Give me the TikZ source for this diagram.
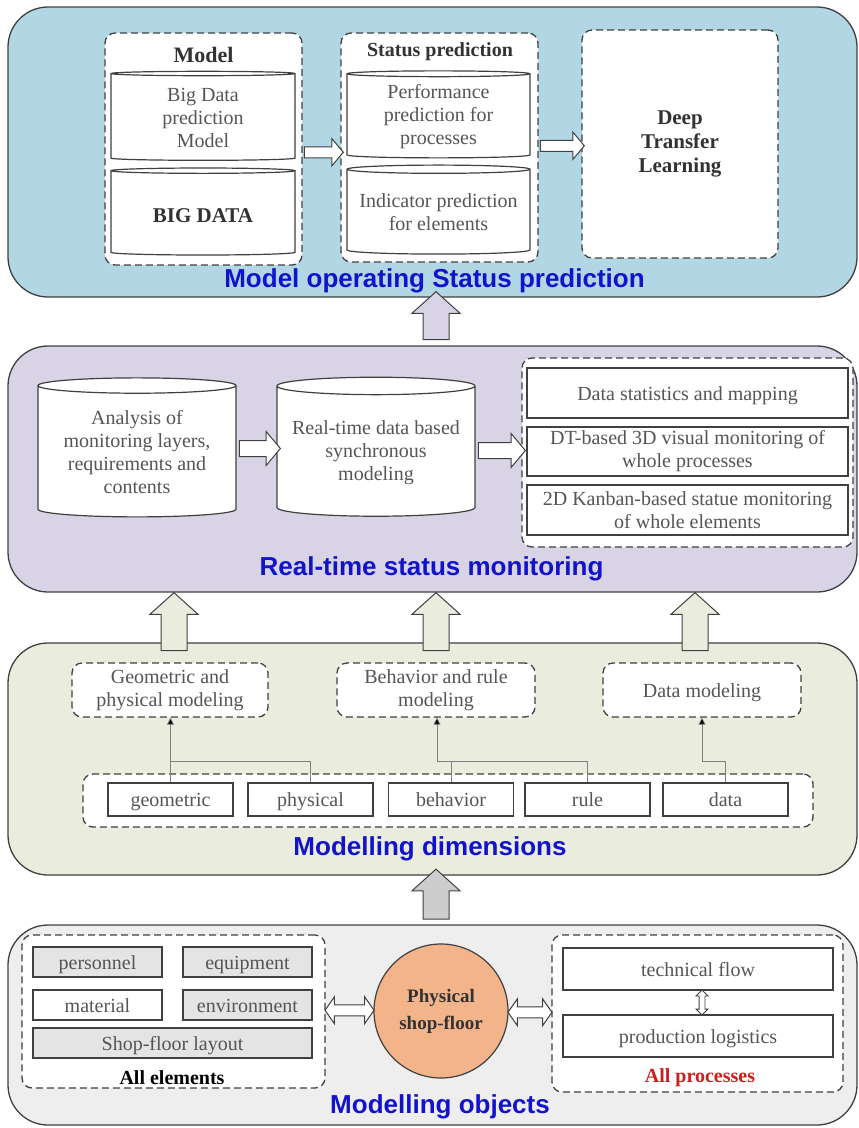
\documentclass[tikz,border=0pt]{standalone}
\usepackage{fontspec}
\setmainfont{Liberation Serif}
\newfontfamily\headfont{Liberation Sans}
\usetikzlibrary{shapes.geometric,shapes.arrows,positioning,arrows.meta}
\definecolor{lc}{RGB}{64,64,64}
\definecolor{tc}{RGB}{85,85,85}
\definecolor{hdc}{RGB}{50,50,50}
\definecolor{ttlblue}{RGB}{18,18,205}
\definecolor{redc}{RGB}{205,30,30}
\definecolor{p1c}{RGB}{178,215,228}
\definecolor{p2c}{RGB}{216,212,230}
\definecolor{p3c}{RGB}{234,237,222}
\definecolor{p4c}{RGB}{238,238,238}
\definecolor{boxgray}{RGB}{228,228,228}
\definecolor{orc}{RGB}{243,180,138}
\definecolor{a43c}{RGB}{205,205,205}
\newcommand{\boxfont}{\fontsize{20}{23}\selectfont}

\begin{document}
\begin{tikzpicture}[x=1pt,y=-1pt,
   panel/.style={draw=lc,line width=1.3pt,rounded corners=40pt,minimum width=849pt,inner sep=0pt},
   ttl/.style={text=ttlblue,font=\headfont\bfseries\fontsize{26}{29}\selectfont,anchor=base},
   grp/.style={draw=lc,line width=1.3pt,dash pattern=on 7pt off 4pt,rounded corners=10pt,fill=white,inner sep=0pt,
     font=\boxfont,text=tc,align=center},
   box/.style={draw=lc,line width=1.2pt,fill=white,text=tc,font=\boxfont,align=center,inner sep=0pt},
   gbox/.style={box,fill=boxgray},
   sl/.style={text height=15pt,text depth=1pt},
   cyl/.style={cylinder,shape border rotate=90,draw=lc,line width=1.2pt,fill=white,text=tc,font=\boxfont,align=center},
   hd/.style={font=\bfseries\fontsize{20}{23}\selectfont,text=hdc,align=center},
   harrow/.style={single arrow,draw=lc,line width=1pt,fill=white,inner sep=5pt,
     single arrow head extend=8pt,single arrow tip angle=100,minimum height=#1},
   darrow/.style={double arrow,draw=lc,line width=1pt,fill=white,inner sep=5pt,
     double arrow head extend=8pt,double arrow tip angle=110,minimum height=#1},
   vdarrow/.style={double arrow,shape border rotate=90,draw=lc,line width=0.8pt,fill=white,inner sep=2.5pt,
     double arrow head extend=3pt,minimum height=#1},
   uparrow/.style={single arrow,shape border rotate=90,draw=lc,line width=1pt,inner sep=12.5pt,
     single arrow head extend=11pt,single arrow tip angle=96,minimum height=#1},
   link/.style={draw=gray,line width=0.7pt},
   uplink/.style={link,-{Triangle[length=7pt,width=7pt,fill=black]}}]
   \useasboundingbox (0,0) rectangle (859,1128);

   \node[panel,fill=p1c,minimum height=290pt] (p1) at (432.5,152) {};
   \node[panel,fill=p2c,minimum height=246pt] (p2) at (432.5,469) {};
   \node[panel,fill=p3c,minimum height=232pt] (p3) at (432.5,759) {};
   \node[panel,fill=p4c,minimum height=200pt] (p4) at (432.5,1025) {};

   \node[grp,minimum width=197pt,minimum height=232pt] (mdl) at (203.5,149) {};
   \node[hd,font=\bfseries\fontsize{22}{24}\selectfont] (mdlt) at (203.5,55) {Model};
   \node[cyl,aspect=0.05,minimum width=184pt,minimum height=89pt] (bdm) at (203,117.5) {Big Data\\prediction\\Model};
   \node[cyl,aspect=0.05,minimum width=184pt,minimum height=87pt,font=\bfseries\fontsize{21}{23}\selectfont,text=hdc,
     text height=17pt,text depth=0pt] (bd) at (203,213.5) {BIG DATA};
   \node[grp,minimum width=197pt,minimum height=229pt] (sts) at (439.5,147.5) {};
   \node[hd] (stst) at (440,52) {Status prediction};
   \node[cyl,aspect=0.05,minimum width=183pt,minimum height=87pt] (perf) at (438.5,116.5) {Performance\\prediction for\\processes};
   \node[cyl,aspect=0.05,minimum width=183pt,minimum height=89pt] (ind) at (438.5,212.5) {Indicator prediction\\for elements};
   \node[grp,minimum width=196pt,minimum height=228pt] (dtl) at (680,144) {};
   \node[hd,font=\bfseries\fontsize{21}{24}\selectfont] (dtlt) at (dtl) {Deep\\Transfer\\Learning};
   \path ([yshift=-4pt]mdl.east) -- ([yshift=-4pt]sts.west) node[midway,harrow=39pt] {};
   \path (sts.east) -- (dtl.west) node[midway,harrow=44pt] {};
   \node[ttl] (t1) at (434.5,287) {Model operating Status prediction};

   \node[cyl,aspect=0.1,minimum width=198pt,minimum height=139pt] (anl) at (137,452.5) {Analysis of\\monitoring layers,\\requirements and\\contents};
   \node[cyl,aspect=0.1,minimum width=198pt,minimum height=139pt] (rtd) at (376,452.5) {Real-time data based\\synchronous\\modeling};
   \node[grp,minimum width=331pt,minimum height=189pt] (mon) at (687.5,452.5) {};
   \node[box,sl,minimum width=321pt,minimum height=50pt] (dsm) at (687.5,393) {Data statistics and mapping};
   \node[box,minimum width=321pt,minimum height=49pt] (vis) at (687.5,451.5) {DT-based 3D visual monitoring of\\whole processes};
   \node[box,minimum width=321pt,minimum height=50pt] (kbn) at (687.5,510) {2D Kanban-based statue monitoring\\of whole elements};
   \path ([yshift=4pt]anl.east) -- ([yshift=4pt]rtd.west) node[midway,harrow=41pt,inner sep=7.5pt,single arrow head extend=9pt] {};
   \path ([yshift=2pt]rtd.east) -- ([yshift=2pt]mon.west) node[midway,harrow=47pt,inner sep=7.5pt,single arrow head extend=9pt] {};
   \node[ttl] (t2) at (431.5,575) {Real-time status monitoring};

   \node[grp,minimum width=196pt,minimum height=54pt] (gpm) at (170,690) {Geometric and\\physical modeling};
   \node[grp,minimum width=198pt,minimum height=54pt] (brm) at (436,690) {Behavior and rule\\modeling};
   \node[grp,sl,minimum width=198pt,minimum height=54pt] (dm) at (702,690) {Data modeling};
   \node[grp,minimum width=730pt,minimum height=53pt] (dim) at (448,800.5) {};
   \node[box,sl,minimum width=125pt,minimum height=33pt] (geo) at (170.5,799.5) {geometric};
   \node[box,sl,minimum width=125pt,minimum height=33pt] (phy) at (310.5,799.5) {physical};
   \node[box,sl,minimum width=125pt,minimum height=33pt] (beh) at (451,799.5) {behavior};
   \node[box,sl,minimum width=125pt,minimum height=33pt] (rul) at (587.5,799.5) {rule};
   \node[box,sl,minimum width=125pt,minimum height=33pt] (dat) at (725.5,799.5) {data};
   \coordinate (jg) at (170.5,761);
   \coordinate (jb) at (437,761);
   \coordinate (jd) at (702,761);
   \draw[link] (geo.north) -- (jg);
   \draw[link] (phy.north) |- (jg);
   \draw[uplink] (jg) -- (jg |- gpm.south);
   \draw[link] (beh.north) |- (jb);
   \draw[link] (rul.north) |- (jb);
   \draw[uplink] (jb) -- (jb |- brm.south);
   \draw[link] (dat.north) |- (jd);
   \draw[uplink] (jd) -- (jd |- dm.south);
   \node[ttl] (t3) at (430,855) {Modelling dimensions};

   \node[grp,minimum width=303pt,minimum height=153pt] (elm) at (173.5,1011.5) {};
   \node[gbox,sl,minimum width=129pt,minimum height=30pt] (per) at (97.5,962) {personnel};
   \node[gbox,sl,minimum width=129pt,minimum height=30pt] (eqp) at (247.5,962) {equipment};
   \node[box,sl,minimum width=129pt,minimum height=30pt] (mat) at (97.5,1005) {material};
   \node[gbox,sl,minimum width=129pt,minimum height=30pt] (env) at (247.5,1005) {environment};
   \node[gbox,sl,minimum width=279pt,minimum height=30pt] (lay) at (172.5,1043) {Shop-floor layout};
   \node[hd,text=black] (elmt) at (172,1078) {All elements};
   \node[circle,draw=lc,line width=1.2pt,fill=orc,minimum size=134pt,hd,font=\bfseries\fontsize{19}{27}\selectfont,inner sep=0pt] (psf) at (441,1011) {Physical\\shop-floor};
   \node[grp,minimum width=291pt,minimum height=157pt] (prc) at (697.5,1013.5) {};
   \node[box,sl,minimum width=270pt,minimum height=42pt] (tf) at (698,969) {technical flow};
   \node[box,sl,minimum width=270pt,minimum height=42pt] (pl) at (698,1036) {production logistics};
   \node[hd,text=redc] (prct) at (700,1078) {All processes};
   \path ([yshift=1pt]elm.east) -- ([yshift=1pt]psf.west) node[midway,darrow=49pt] {};
   \path (psf.east) -- (prc.west) node[midway,darrow=44pt] {};
   \path ([xshift=4pt]tf.south) -- ([xshift=4pt]pl.north) node[midway,vdarrow=25pt] {};
   \node[ttl] (t4) at (440,1113) {Modelling objects};

   \path ([xshift=3.5pt]p2.north) -- ([xshift=3.5pt]p1.south) node[midway,uparrow=48pt,fill=p2c] {};
   \path ([xshift=4pt]gpm.north) -- ([xshift=4pt]gpm.north |- p2.south) node[midway,uparrow=58pt,fill=p3c] {};
   \path (brm.north) -- (brm.north |- p2.south) node[midway,uparrow=58pt,fill=p3c] {};
   \path ([xshift=-7pt]dm.north) -- ([xshift=-7pt]dm.north |- p2.south) node[midway,uparrow=58pt,fill=p3c] {};
   \path ([xshift=3.5pt]p4.north) -- ([xshift=3.5pt]p3.south) node[midway,uparrow=50pt,fill=a43c] {};
\end{tikzpicture}
\end{document}
